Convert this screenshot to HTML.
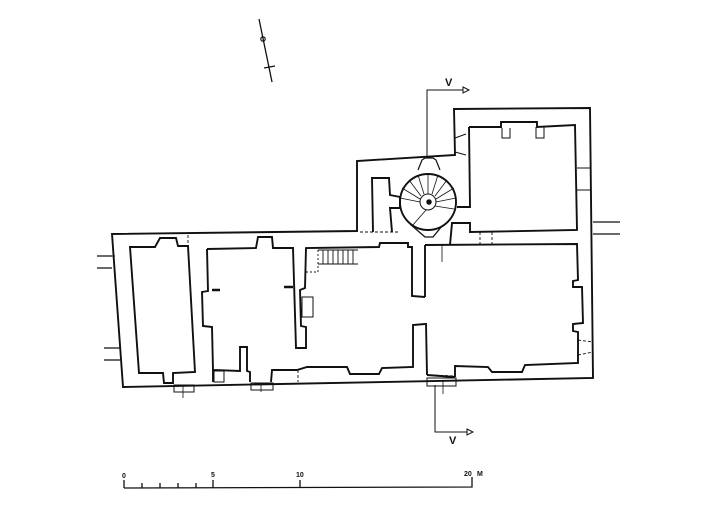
<!DOCTYPE html>
<html><head><meta charset="utf-8"><style>
html,body{margin:0;padding:0;background:#fff;}
svg{display:block}
text{font-family:"Liberation Sans",sans-serif;font-weight:bold;fill:#111}
</style></head><body>
<svg width="722" height="512" viewBox="0 0 722 512" xmlns="http://www.w3.org/2000/svg">
<g fill="none" stroke="#111" stroke-width="1.9" stroke-linejoin="miter">
<line x1="259" y1="19" x2="272" y2="82" stroke-width="1.3"/>
<circle cx="263" cy="39" r="2.2" stroke-width="1.2"/>
<line x1="264" y1="68" x2="275" y2="66" stroke-width="1.2"/>

<path d="M112,234 L357,231 L357,161 L455,155 L454,109 L590,108 L593,378 L123,387 Z"/>

<path d="M130,247 L155,247 L160,238 L176,238 L178,246 L188,246 L195,372 L173,373 L173,383 L164,383 L163,373 L144,373 L139,373 Z"/>
<path d="M207,249 L256,248 L258,237 L272,237 L273,248 L293,248 L296,348 L306,348 L306,327 L301,326 L300,290 L305,288 L306,248 L379,247 L380,243 L408,243 L408,247 L412,247 L412,296 L425,297"/>
<path d="M425,324 L413,325 L413,367 L382,368 L379,374 L350,374 L347,367 L307,367 L297,370 L272,370 L271,382"/>
<path d="M207,249 L208,291 L202,292 L203,326 L212,327 L213,370 L240,371 L240,347 L247,347 L247,371 L250,372 L250,382"/>
<line x1="213" y1="370" x2="213" y2="382"/>
<rect x="214" y="371" width="10" height="11" stroke-width="1"/>
<rect x="302" y="297" width="11" height="20" stroke-width="1"/>
<line x1="212" y1="290" x2="220" y2="290" stroke-width="2.5"/>
<line x1="284" y1="287" x2="293" y2="287" stroke-width="2.5"/>
<g stroke-width="0.9">
<path d="M318,250 L358,250 M318,264 L358,264"/>
<path d="M323,250 V264 M328,250 V264 M333,250 V264 M338,250 V264 M343,250 V264 M348,250 V264 M353,250 V264"/>
<path d="M306,272 L318,272 L318,250" stroke-dasharray="2,2"/>
</g>
<path d="M425,245 L577,244 L578,280 L573,281 L573,287 L582,287 L583,323 L573,324 L573,331 L578,332 L578,363 L525,365 L522,372 L492,372 L488,367 L455,366 L455,377"/>
<path d="M426,323 L427,375"/>
<path d="M425,245 L425,297"/>
<path d="M427,375 L455,377"/>
<path d="M469,127 L501,127 L501,122 L537,122 L537,127 L575,125 L577,230 L470,232 L470,223 L452,223 L450,245"/>
<path d="M469,127 L470,207 L457,207"/>
<path d="M502,128 L502,138 L510,138 L510,128 M536,127 L536,138 L544,138 L544,127" stroke-width="1"/>
<path d="M455,138 L466,134 M455,152 L466,155" stroke-width="1"/>
<path d="M577,168 L590,168 M577,190 L590,190" stroke-width="1"/>
<path d="M373,232 L372,178 L389,178 L390,195 L400,197 L400,208 L390,208 L392,232"/>
<circle cx="428" cy="202" r="28"/>
<circle cx="428" cy="202" r="8" stroke-width="1"/>
<circle cx="429" cy="202" r="1.8" fill="#111"/>
<g stroke-width="0.8">
<line x1="428" y1="174" x2="428" y2="194"/><line x1="438" y1="175" x2="432" y2="194"/>
<line x1="447" y1="180" x2="435" y2="196"/><line x1="454" y1="188" x2="436" y2="199"/>
<line x1="456" y1="198" x2="436" y2="202"/><line x1="454" y1="209" x2="435" y2="206"/>
<line x1="418" y1="175" x2="424" y2="194"/><line x1="409" y1="180" x2="421" y2="196"/>
<line x1="402" y1="188" x2="420" y2="199"/><line x1="400" y1="198" x2="420" y2="202"/>
<line x1="412" y1="226" x2="426" y2="210"/>
</g>
<path d="M422,160 L425,158 L433,158 L436,160 L440,170 M418,170 L422,160" stroke-width="1.2"/>
<path d="M410,224 L425,237 L433,237 L442,226" stroke-width="1.3"/>
<g stroke-width="0.9" stroke-dasharray="3,2">
<line x1="188" y1="235" x2="188" y2="246"/>
<line x1="480" y1="232" x2="480" y2="245"/>
<line x1="492" y1="232" x2="492" y2="244"/>
<line x1="298" y1="370" x2="298" y2="382"/>
<line x1="578" y1="340" x2="593" y2="342"/>
<line x1="578" y1="355" x2="593" y2="352"/>
<line x1="112" y1="256" x2="116" y2="256"/>
<line x1="360" y1="232" x2="400" y2="232"/>
<line x1="430" y1="375" x2="455" y2="376"/>
</g>
<rect x="174" y="385" width="20" height="7" stroke-width="1"/>
<rect x="251" y="383" width="22" height="7" stroke-width="1"/>
<rect x="427" y="378" width="29" height="8" stroke-width="1"/>
<g stroke-width="0.8">
<line x1="183" y1="385" x2="183" y2="398"/>
<line x1="261" y1="383" x2="261" y2="392"/>
<line x1="443" y1="380" x2="443" y2="394"/>
<line x1="442" y1="245" x2="442" y2="262"/>
</g>
<path d="M97,256 L112,256 M97,268 L112,268 M104,348 L120,348 M104,360 L120,360 M593,222 L620,222 M593,234 L620,234" stroke-width="1.3"/>
<path d="M427,157 L427,90 L463,90" stroke-width="1"/>
<path d="M463,87 L469,90 L463,93 Z" stroke-width="1"/>
<path d="M435,385 L435,432 L467,432" stroke-width="1"/>
<path d="M467,429 L473,432 L467,435 Z" stroke-width="1"/>
<path d="M124,488 L472,487 L472,477" stroke-width="1.3"/>
<path d="M124,488 V480 M142,488 V483 M160,488 V483 M178,488 V483 M196,488 V483 M213,488 V480 M300,487 V480" stroke-width="1.3"/>
</g>
<text x="445" y="86" font-size="11">V</text>
<text x="449" y="444" font-size="11">V</text>
<text x="122" y="478" font-size="7">0</text>
<text x="211" y="477" font-size="7">5</text>
<text x="296" y="477" font-size="7">10</text>
<text x="464" y="476" font-size="7">20</text>
<text x="477" y="476" font-size="7">M</text>
</svg>
</body></html>
